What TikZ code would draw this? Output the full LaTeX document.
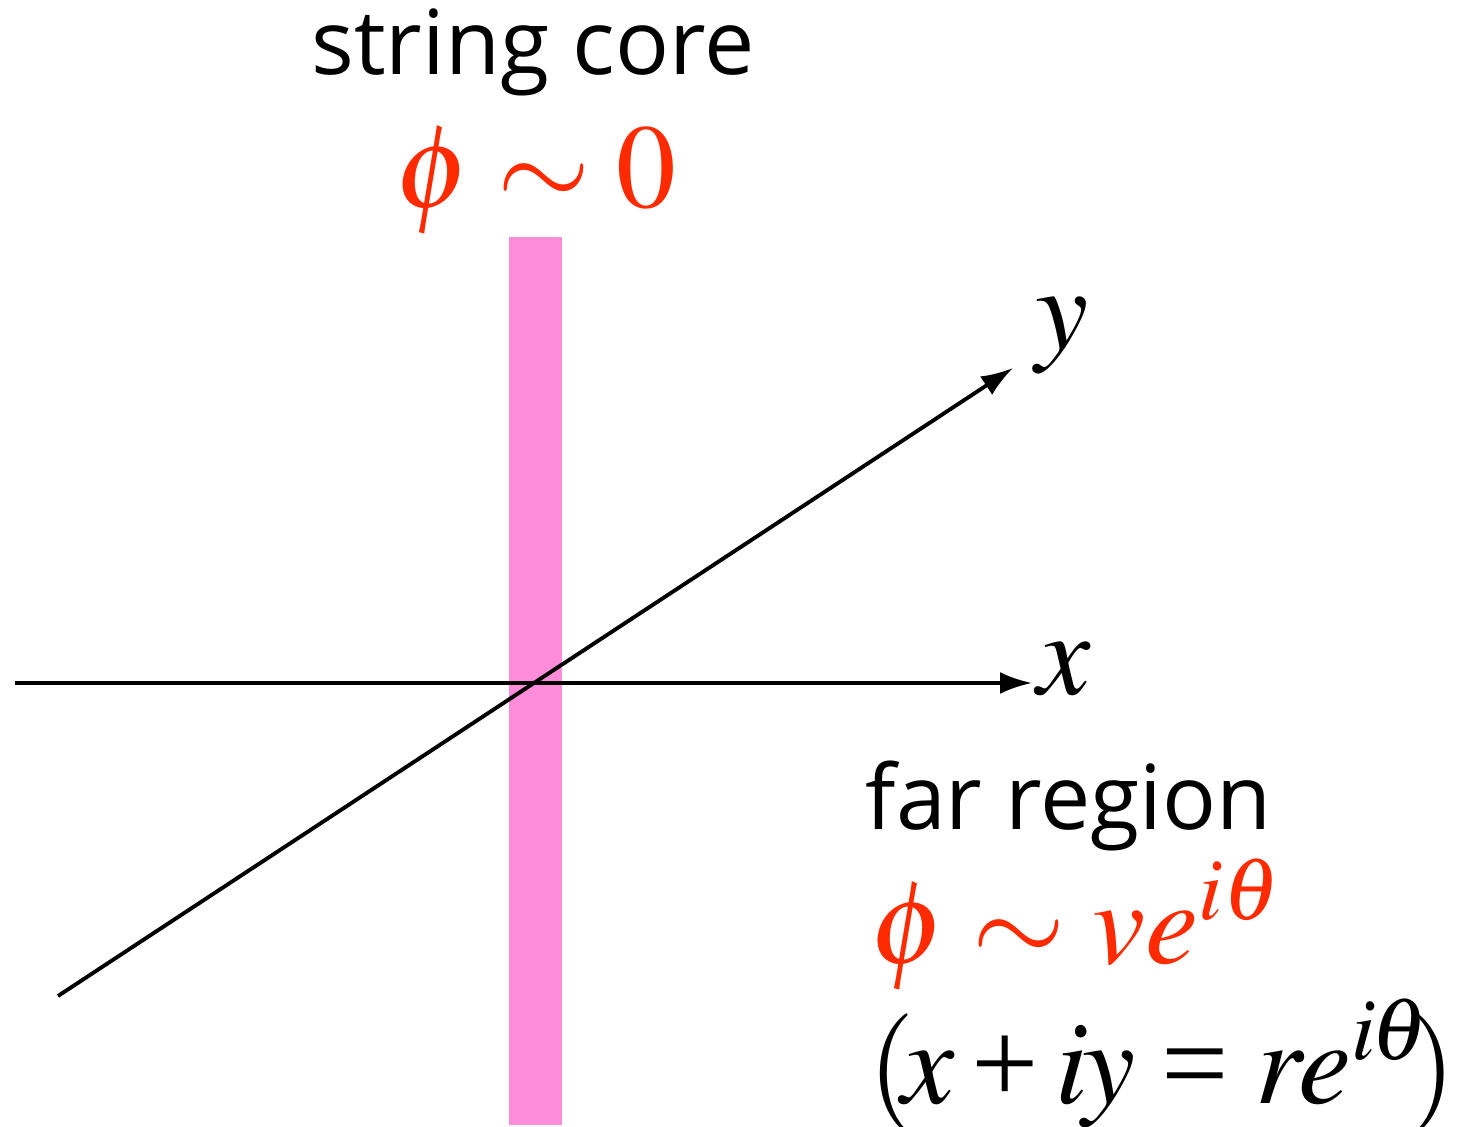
\documentclass[tikz,border=0pt]{standalone}
\usepackage{amsmath}
\usepackage{mathptmx}
\usepackage[no-math]{fontspec}
\setmainfont{Liberation Serif}
\setsansfont{Open Sans}
\usetikzlibrary{arrows.meta,positioning}
\definecolor{corePink}{HTML}{FF8CD8}
\definecolor{fieldRed}{HTML}{FF2A00}
\newcommand{\tplus}{\mathbin{\textrm{+}}}
\newcommand{\teq}{\mathrel{\textrm{=}}}

\begin{document}
\begin{tikzpicture}[>={Latex[length=0.32cm,width=0.22cm]},
  axis/.style={line width=1.1pt,->},
  word/.style={font=\sffamily\fontsize{25.5}{30}\selectfont,inner sep=0pt},
  big/.style={font=\fontsize{34}{40}\selectfont,inner sep=0pt}]
\useasboundingbox (0,0) rectangle (14.67,11.26);
% string core
\node[fill=corePink,minimum width=0.53cm,minimum height=8.88cm,inner sep=0pt,anchor=south] (core) at (5.355,0) {};
% axes
\coordinate (o) at (5.355,4.43);
\coordinate (xs) at (0.15,4.43);
\coordinate (xe) at (10.32,4.43);
\coordinate (ys) at (0.58,1.30);
\coordinate (ye) at (10.13,7.58);
\draw[axis] (xs) -- (xe);
\draw[axis] (ys) -- (ye);
\node[big,anchor=base] (xlab) at (10.64,4.31) {$x$};
\node[big,anchor=base] (ylab) at (10.62,7.76) {$y$};
% labels
\node[word,anchor=base] (coretxt) at (5.33,10.51) {string core};
\node[big,anchor=base,text=fieldRed] (coreeq) at (5.36,9.18) {$\phi\sim 0$};
\node[word,anchor=base west] (fartxt) at (8.65,2.96) {far region};
\node[big,anchor=base west,text=fieldRed] (fareq) at (8.70,1.63) {$\phi\sim ve^{i\theta}$};
\node[big,anchor=base west] (polar) at (8.68,0.23)
  {$(\mkern-2mu x\tplus i\mkern-1mu y\teq r\mkern-1mu e^{i\mkern-1mu\theta}\mkern-3mu)$};
\end{tikzpicture}
\end{document}
